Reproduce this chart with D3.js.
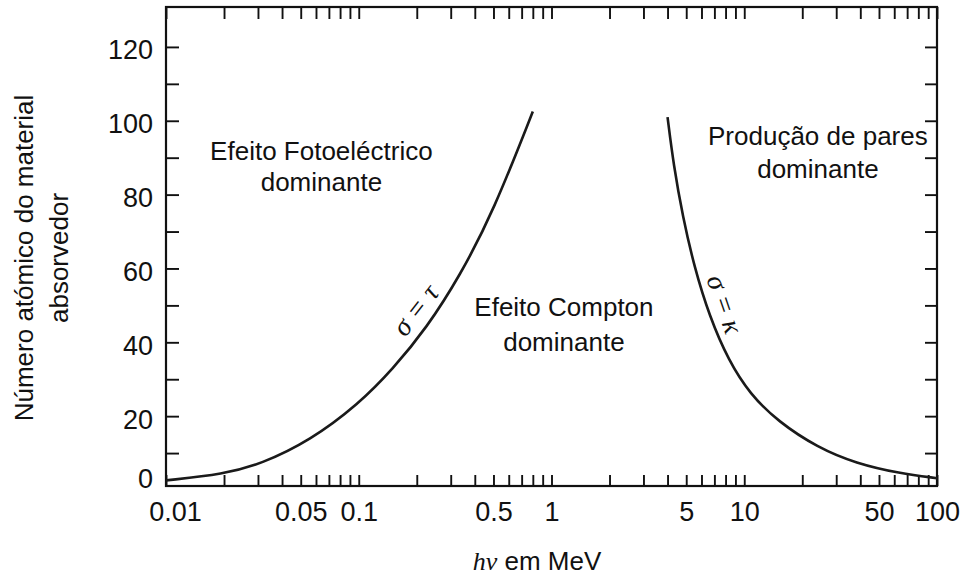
<!DOCTYPE html>
<html>
<head>
<meta charset="utf-8">
<script src="https://cdn.jsdelivr.net/npm/d3@7"></script>
<style>
  body { margin: 0; background: #fff; }
  text { font-family: "Liberation Sans", Arial, sans-serif; fill: #111; }
</style>
</head>
<body>
<div id="canvas"></div>
<script>
// energy (MeV) and atomic number Z
const photoEnergy = [0.01, 0.02, 0.031, 0.056, 0.1, 0.15, 0.225, 0.335, 0.5, 0.8];
const photoZ      = [2.6, 4.3, 7.0, 13.4, 23.3, 32.7, 43.9, 58, 75.5, 102.5];

const pairEnergy = [4, 4.3, 4.8, 5.5, 6.6, 8.3, 10.7, 15, 24, 38, 64, 100];
const pairZ      = [101, 88, 74, 60.5, 47, 35, 26, 18.5, 11.5, 7.2, 4.5, 3.2];

const xTickValues = [0.01, 0.05, 0.1, 0.5, 1, 5, 10, 50, 100];
const yTickValues = [0, 10, 20, 30, 40, 50, 60, 70, 80, 90, 100, 110, 120];
const yLabelValues = [0, 20, 40, 60, 80, 100, 120];

const regionLabels = [
    { lines: ["Efeito Fotoeléctrico", "dominante"], e: 0.064, z: 89.5, gap: 31 },
    { lines: ["Efeito Compton", "dominante"], e: 1.16, z: 47, gap: 35 },
    { lines: ["Produção de pares", "dominante"], e: 24.1, z: 93.5, gap: 33 }
];

const canvas = d3.select("#canvas");

const width = 968;
const height = 577;
const margin = { top: 7, left: 166, bottom: 91, right: 31 };
const iwidth = width - margin.left - margin.right;
const iheight = height - margin.top - margin.bottom;

const svg = canvas.append("svg")
    .attr("width", width)
    .attr("height", height);

const g = svg.append("g").attr("transform", `translate(${margin.left},${margin.top})`);

const x = d3.scaleLog()
    .domain([0.01, 100])
    .range([0, iwidth]);

const y = d3.scaleLinear()
    .domain([0, 130])
    .range([iheight + 4, 3]);

const near = (a, b) => Math.abs(a - b) / b < 1e-6;
const xFormat = d => {
    const v = xTickValues.find(t => near(d, t));
    return v === undefined ? "" : String(v);
};

// bottom axis
const xb = g.append("g")
    .attr("transform", `translate(0,${iheight})`)
    .call(d3.axisBottom(x).tickValues(x.ticks()).tickSize(-11).tickPadding(16).tickFormat(xFormat));
xb.selectAll("text").filter(d => near(d, 0.01)).attr("dx", 9);

// top axis
const xt = g.append("g")
    .call(d3.axisTop(x).tickValues(x.ticks()).tickSize(-12).tickFormat(""));

// left axis
const yl = g.append("g")
    .call(d3.axisLeft(y).tickValues(yTickValues).tickSize(-13).tickPadding(13)
        .tickFormat(d => yLabelValues.includes(d) ? d : ""));
yl.selectAll(".tick").filter(d => d === 0).select("line").remove();
yl.selectAll(".tick").filter(d => d === 0).select("text").attr("dy", "-0.08em");
yl.selectAll(".tick").filter(d => d !== 0).select("text").attr("dy", "0.44em");

// right axis
const yr = g.append("g")
    .attr("transform", `translate(${iwidth},0)`)
    .call(d3.axisRight(y).tickValues(yTickValues.filter(d => d > 0)).tickSize(-12).tickFormat(""));

[xb, xt, yl, yr].forEach(a => {
    a.select(".domain").remove();
    a.selectAll("line").attr("stroke", "#111").attr("stroke-width", 1.9);
    a.selectAll("text").style("font-size", "27px").attr("fill", "#111");
});

g.append("rect")
    .attr("width", iwidth)
    .attr("height", iheight)
    .attr("fill", "none")
    .attr("stroke", "#111")
    .attr("stroke-width", 2.2);

// boundary curves
const line = d3.line()
    .x(d => x(d[0]))
    .y(d => y(d[1]))
    .curve(d3.curveBasis);

g.append("path")
    .datum(d3.zip(photoEnergy, photoZ))
    .attr("d", line)
    .attr("fill", "none")
    .attr("stroke", "#1a1a1a")
    .attr("stroke-width", 2.6);

g.append("path")
    .datum(d3.zip(pairEnergy, pairZ))
    .attr("d", line)
    .attr("fill", "none")
    .attr("stroke", "#1a1a1a")
    .attr("stroke-width", 2.6);

// curve labels
g.append("text")
    .attr("transform", `translate(${x(0.2144)},${y(47.2)}) rotate(-52)`)
    .attr("text-anchor", "middle")
    .style("font-family", "'Liberation Serif', 'Times New Roman', serif")
    .style("font-style", "italic")
    .style("font-size", "28px")
    .text("σ = τ");

g.append("text")
    .attr("transform", `translate(${x(7.4) - 3},${y(49.5)}) rotate(71)`)
    .attr("text-anchor", "middle")
    .style("font-family", "'Liberation Serif', 'Times New Roman', serif")
    .style("font-style", "italic")
    .style("font-size", "28px")
    .text("σ = κ");

// region labels
regionLabels.forEach(r => {
    const t = g.append("text")
        .attr("text-anchor", "middle")
        .style("font-size", "26px");
    r.lines.forEach((s, i) => {
        t.append("tspan")
            .attr("x", x(r.e))
            .attr("y", y(r.z) + i * r.gap)
            .text(s);
    });
});

// axis titles
const xTitle = svg.append("text")
    .attr("x", 537)
    .attr("y", 570)
    .attr("text-anchor", "middle")
    .style("font-size", "26px");
xTitle.append("tspan")
    .style("font-family", "'Liberation Serif', 'Times New Roman', serif")
    .style("font-style", "italic")
    .text("hv");
xTitle.append("tspan").text(" em MeV");

const yTitle = svg.append("text")
    .attr("transform", "translate(0,258) rotate(-90)")
    .attr("text-anchor", "middle")
    .style("font-size", "26px");
yTitle.append("tspan").attr("x", 0).attr("y", 33).text("Número atómico do material");
yTitle.append("tspan").attr("x", 0).attr("y", 68).text("absorvedor");
</script>
</body>
</html>
